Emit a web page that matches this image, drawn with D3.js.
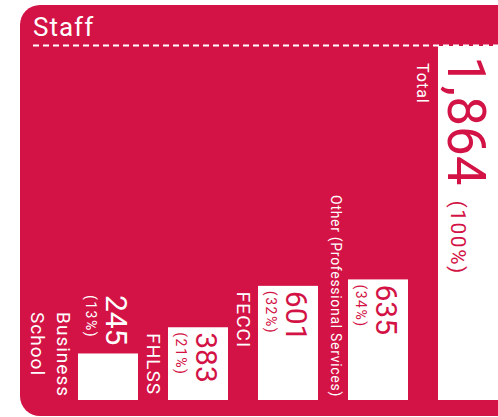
<!DOCTYPE html>
<html>
<head>
<meta charset="utf-8">
<script src="https://cdn.jsdelivr.net/npm/d3@7"></script>
<style>
  html, body { margin: 0; padding: 0; background: #fff; overflow: hidden; }
  svg { display: block; }
  text { font-family: Roboto, "Open Sans", "Liberation Sans", Arial, sans-serif; font-weight: 400; }
</style>
</head>
<body>
<svg id="chart" width="498" height="417"></svg>
<script>
// ---- data ----
const title = "Staff";
const categories = ["Business School", "FHLSS", "FECCI", "Other (Professional Services)", "Total"];
const staff = [245, 383, 601, 635, 1864];
const shares = ["(13%)", "(21%)", "(32%)", "(34%)", "(100%)"];

// ---- layout ----
const W = 498, H = 417;
const RED = "#D31346";
const svg = d3.select("#chart");

svg.append("rect")
  .attr("x", 20).attr("y", 5)
  .attr("width", 520).attr("height", 411)
  .attr("rx", 20).attr("ry", 20)
  .attr("fill", RED);

svg.append("text")
  .attr("x", 33).attr("y", 36)
  .attr("fill", "#fff")
  .attr("font-size", 26)
  .attr("letter-spacing", 1)
  .text(title);

const baseY = 400, topY = 46;

svg.append("line")
  .attr("x1", 33).attr("x2", W)
  .attr("y1", topY - 0.5).attr("y2", topY - 0.5)
  .attr("stroke", "#fff").attr("stroke-width", 2)
  .attr("stroke-dasharray", "6 4");

const x = d3.scaleBand()
  .domain(categories)
  .range([63, 513])
  .paddingInner(1 / 3)
  .paddingOuter(1 / 6);

const y = d3.scaleLinear()
  .domain([0, d3.max(staff)])
  .range([baseY, topY]);

const data = categories.map((c, i) => ({ cat: c, v: staff[i], pct: shares[i], total: i === categories.length - 1 }));

svg.selectAll("rect.bar")
  .data(data)
  .join("rect")
  .attr("class", "bar")
  .attr("x", d => x(d.cat))
  .attr("y", d => y(d.v))
  .attr("width", x.bandwidth())
  .attr("height", d => baseY - y(d.v))
  .attr("fill", "#fff");

const fmt = d3.format(",");

function vtext(g, str, size, ls, color, weight) {
  return g.append("text")
    .attr("font-size", size)
    .attr("letter-spacing", ls)
    .attr("font-weight", weight || 400)
    .attr("fill", color)
    .text(str);
}

data.forEach(d => {
  const bx = x(d.cat);
  const top = y(d.v);
  const g = svg.append("g");

  // value label
  const vSize = d.total ? 53 : 30;
  const vt = vtext(g, fmt(d.v), vSize, 0, RED, d.total ? 400 : 500);
  const vLen = vt.node().getComputedTextLength();
  let vStart = top + (d.total ? 10 : 5);
  let inside = true;
  if (vStart + vLen > baseY - 5) { vStart = top - 8 - vLen; inside = false; }
  const vX = bx + (d.total ? 10 : 28);
  vt.attr("fill", inside ? RED : "#fff")
    .attr("transform", `translate(${vX},${vStart}) rotate(90)`);

  // share label
  const pSize = d.total ? 21 : 14;
  const pt = vtext(g, d.pct, pSize, 1.5, inside ? RED : "#fff", 400);
  const pStart = d.total ? vStart + vLen + 15 : vStart;
  const pX = d.total ? bx + 13 : bx + 8;
  pt.attr("transform", `translate(${pX},${pStart}) rotate(90)`);

  // category label
  const long = d.cat.length > 20;
  const cSize = d.total ? 16 : (long ? 14 : 19);
  const lines = long ? [d.cat] : d.cat.split(" ");
  const texts = lines.map(l => vtext(g, l, cSize, d.total ? 1 : (long ? 0.7 : 1), "#fff", 400));
  const cLen = d3.max(texts, t => t.node().getComputedTextLength());
  let cStart = top + (d.total ? 17 : 6);
  if (cStart + cLen > baseY - 3) cStart = baseY - 3 - cLen;
  texts.forEach((t, k) => {
    const cx = bx - (long ? 17 : 21) - k * 26;
    t.attr("transform", `translate(${cx},${cStart}) rotate(90)`);
  });
});
</script>
</body>
</html>
